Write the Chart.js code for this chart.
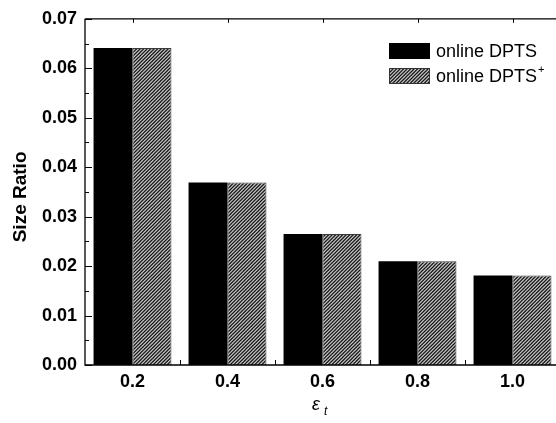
<!DOCTYPE html>
<html>
<head>
<meta charset="utf-8">
<script src="https://cdn.jsdelivr.net/npm/chart.js@4.4.0/dist/chart.umd.min.js"></script>
<style>
  html, body { margin: 0; padding: 0; background: #fff; overflow: hidden; width: 556px; height: 423px; }
  canvas { display: block; position: absolute; left: 0; top: 0; }
</style>
</head>
<body>
<canvas id="c" width="570" height="423"></canvas>
<script>
// Size ratio of the two online variants for each error tolerance
const categories = ['0.2', '0.4', '0.6', '0.8', '1.0'];
const onlineDPTS = [0.0641, 0.0369, 0.0265, 0.0210, 0.0181];
const onlineDPTSPlus = [0.0641, 0.0369, 0.0265, 0.0210, 0.0181];
const yTicks = [0, 0.01, 0.02, 0.03, 0.04, 0.05, 0.06, 0.07];
const seriesNames = ['online DPTS', 'online DPTS'];

const FONT = '"Liberation Sans", Arial, sans-serif';

// diagonal "/" hatch fill used for the second series
function makeHatch() {
  const s = 7;
  const p = document.createElement('canvas');
  p.width = s; p.height = s;
  const g = p.getContext('2d');
  g.fillStyle = '#cfcfcf';
  g.fillRect(0, 0, s, s);
  g.strokeStyle = '#1a1a1a';
  g.lineWidth = 1.3;
  g.beginPath();
  // lines x + y = c, every 3.5 px
  for (let k = 0; k <= 4; k++) {
    const c = k * 3.5;
    g.moveTo(c + 3, -3);
    g.lineTo(c - 20, 20);
  }
  g.stroke();
  return g.createPattern(p, 'repeat');
}

const ctx0 = document.getElementById('c').getContext('2d');
const hatch = makeHatch();

const framePlugin = {
  id: 'frame',
  afterDraw(chart) {
    const { ctx, chartArea: a, scales: { x, y } } = chart;
    ctx.save();
    ctx.strokeStyle = '#000';
    ctx.lineWidth = 1.3;
    // axes frame
    ctx.beginPath();
    ctx.moveTo(a.left, a.top);
    ctx.lineTo(a.right, a.top);
    ctx.moveTo(a.left, a.top);
    ctx.lineTo(a.left, a.bottom);
    ctx.lineTo(a.right, a.bottom);
    ctx.moveTo(a.right, a.top);
    ctx.lineTo(a.right, a.bottom);
    ctx.stroke();

    ctx.lineWidth = 1;
    ctx.beginPath();
    // y ticks, major and minor, pointing inward
    for (let i = 0; i < yTicks.length; i++) {
      const py = Math.round(y.getPixelForValue(yTicks[i])) + 0.5;
      ctx.moveTo(a.left, py); ctx.lineTo(a.left + 7, py);
      if (i < yTicks.length - 1) {
        const pm = Math.round(y.getPixelForValue((yTicks[i] + yTicks[i + 1]) / 2)) + 0.5;
        ctx.moveTo(a.left, pm); ctx.lineTo(a.left + 4, pm);
      }
    }
    // x ticks between categories on the bottom axis, at categories on the top axis
    const n = categories.length;
    const half = (x.getPixelForValue(1) - x.getPixelForValue(0)) / 2;
    for (let i = 0; i < n; i++) {
      const cx = x.getPixelForValue(i);
      const bx = Math.round(cx + half) + 0.5;
      ctx.moveTo(bx, a.bottom); ctx.lineTo(bx, a.bottom - 5);
      const tx = Math.round(cx) + 0.5;
      ctx.moveTo(tx, a.top); ctx.lineTo(tx, a.top + 4);
    }
    ctx.stroke();

    // axis titles
    ctx.fillStyle = '#000';
    ctx.save();
    ctx.translate(21, (a.top + a.bottom) / 2 + 5);
    ctx.rotate(-Math.PI / 2);
    ctx.font = 'bold 19px ' + FONT;
    ctx.textAlign = 'center';
    ctx.textBaseline = 'middle';
    ctx.fillText('Size Ratio', 0, 0);
    ctx.restore();

    ctx.font = 'italic 18px ' + FONT;
    ctx.textAlign = 'left';
    ctx.textBaseline = 'alphabetic';
    ctx.fillText('\u03b5', 312, 410);
    ctx.font = 'italic 12px ' + FONT;
    ctx.fillText('t', 324, 415);

    // legend
    const lx = 389, bw = 41, bh = 16;
    const rows = [{ y: 43, fill: '#000', stroke: '#000' }, { y: 68, fill: hatch, stroke: '#333' }];
    ctx.font = '18px ' + FONT;
    ctx.textBaseline = 'middle';
    rows.forEach((r, i) => {
      ctx.fillStyle = r.fill;
      ctx.fillRect(lx, r.y, bw, bh);
      ctx.strokeStyle = r.stroke;
      ctx.lineWidth = 1;
      ctx.strokeRect(lx + 0.5, r.y + 0.5, bw - 1, bh - 1);
      ctx.fillStyle = '#000';
      ctx.fillText(seriesNames[i], lx + bw + 6, r.y + bh / 2 + 1);
      if (i === 1) {
        const w = ctx.measureText(seriesNames[i]).width;
        ctx.font = '11px ' + FONT;
        ctx.fillText('+', lx + bw + 6 + w + 1, r.y + 2);
        ctx.font = '18px ' + FONT;
      }
    });
    ctx.restore();
  }
};

new Chart(ctx0, {
  type: 'bar',
  data: {
    labels: categories,
    datasets: [
      { label: seriesNames[0], data: onlineDPTS, backgroundColor: '#000', borderColor: '#000', borderWidth: 0 },
      { label: seriesNames[1] + '+', data: onlineDPTSPlus, backgroundColor: hatch, borderColor: '#3a3a3a', borderWidth: 1 }
    ]
  },
  options: {
    responsive: false,
    animation: false,
    devicePixelRatio: 1,
    layout: { padding: { top: 10, right: 10, left: 0, bottom: 0 } },
    datasets: { bar: { categoryPercentage: 0.82, barPercentage: 1.0 } },
    plugins: { legend: { display: false }, tooltip: { enabled: false } },
    scales: {
      x: {
        grid: { display: false, drawTicks: false },
        border: { display: false },
        ticks: { color: '#000', font: { family: FONT, size: 18, weight: 'bold' }, padding: 6, maxRotation: 0 },
        afterFit(s) { s.height = 58; }
      },
      y: {
        min: 0, max: 0.07,
        grid: { display: false, drawTicks: false },
        border: { display: false },
        afterBuildTicks(s) { s.ticks = yTicks.map(v => ({ value: v })); },
        ticks: {
          color: '#000', font: { family: FONT, size: 18, weight: 'bold' }, padding: 8,
          callback: v => Number(v).toFixed(2)
        },
        afterFit(s) { s.width = 85; }
      }
    }
  },
  plugins: [framePlugin]
});
</script>
</body>
</html>
